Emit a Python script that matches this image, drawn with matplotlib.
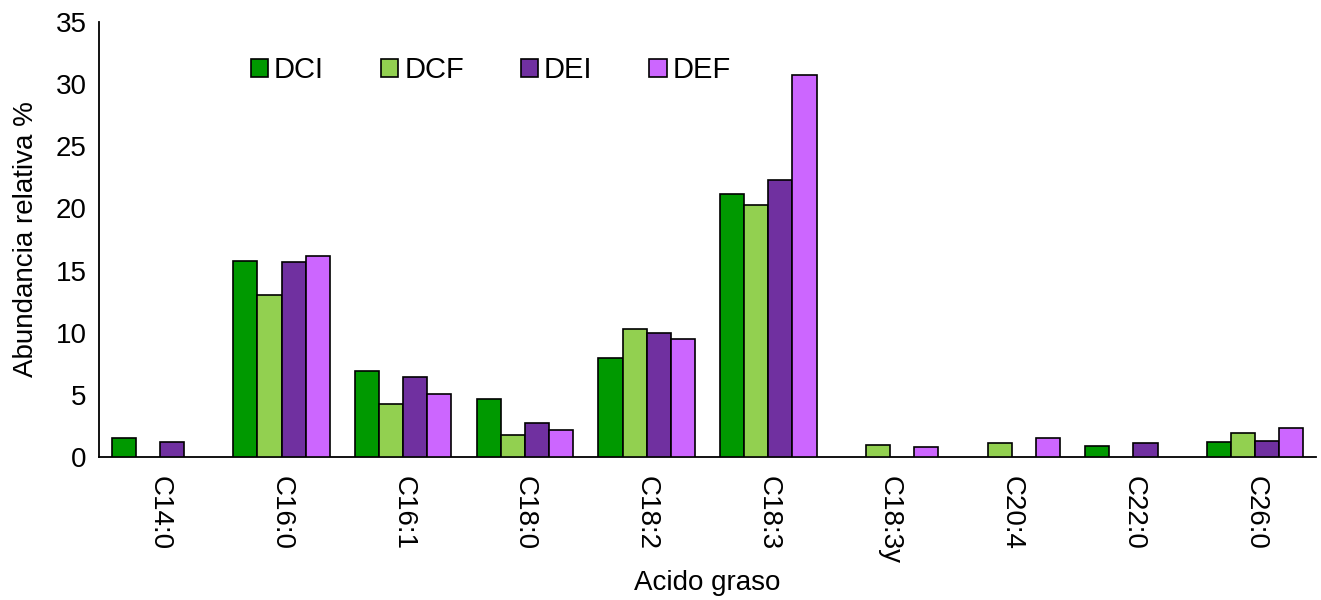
import numpy as np
import matplotlib
matplotlib.use("Agg")
import matplotlib.pyplot as plt

plt.rcParams['font.family'] = ['Liberation Sans', 'DejaVu Sans']

categories = ["C14:0", "C16:0", "C16:1", "C18:0", "C18:2", "C18:3",
              "C18:3y", "C20:4", "C22:0", "C26:0"]
series_names = ["DCI", "DCF", "DEI", "DEF"]
dci = [1.5, 15.8, 6.9, 4.7, 8.0, 21.2, 0.0, 0.0, 0.9, 1.2]
dcf = [0.0, 13.0, 4.3, 1.8, 10.3, 20.3, 1.0, 1.1, 0.0, 1.9]
dei = [1.2, 15.7, 6.4, 2.7, 10.0, 22.3, 0.0, 0.0, 1.1, 1.3]
def_ = [0.0, 16.2, 5.1, 2.2, 9.5, 30.7, 0.8, 1.5, 0.0, 2.3]
colors = ["#009900", "#92D050", "#7030A0", "#CC66FF"]

fig = plt.figure(figsize=(13.21, 6.0), dpi=100)
ax = fig.add_axes([99 / 1321, 1 - 457 / 600, (1316 - 99) / 1321, (457 - 22) / 600])

x = np.arange(len(categories))
width = 0.198
for i, (name, vals, col) in enumerate(zip(series_names, [dci, dcf, dei, def_], colors)):
    offs = (i - 1.5) * width
    v = np.array(vals, dtype=float)
    mask = v > 0
    ax.bar(x[mask] + offs, v[mask], width=width, color=col, edgecolor="black",
           linewidth=1.2, label=name, zorder=3)

ax.set_xlim(-0.5, len(categories) - 0.5)
ax.set_ylim(0, 35)
ax.set_yticks(range(0, 36, 5))
ax.set_xticks(x)
ax.set_xticklabels(categories, rotation=-90, fontsize=20)
ax.tick_params(axis='y', labelsize=20, length=0, pad=9)
ax.tick_params(axis='x', length=0, pad=14)
for s in ["top", "right"]:
    ax.spines[s].set_visible(False)
for s in ["left", "bottom"]:
    ax.spines[s].set_linewidth(1.3)

ax.set_ylabel("Abundancia relativa %", fontsize=20, labelpad=12)
ax.set_xlabel("Acido graso", fontsize=20, labelpad=4)

leg = ax.legend(loc="upper left", bbox_to_anchor=(0.103, 0.982), ncol=4, frameon=False,
                fontsize=21, handlelength=0.6, handleheight=0.6, handletextpad=0.2,
                columnspacing=1.95)

fig.savefig("out.png", dpi=100)
